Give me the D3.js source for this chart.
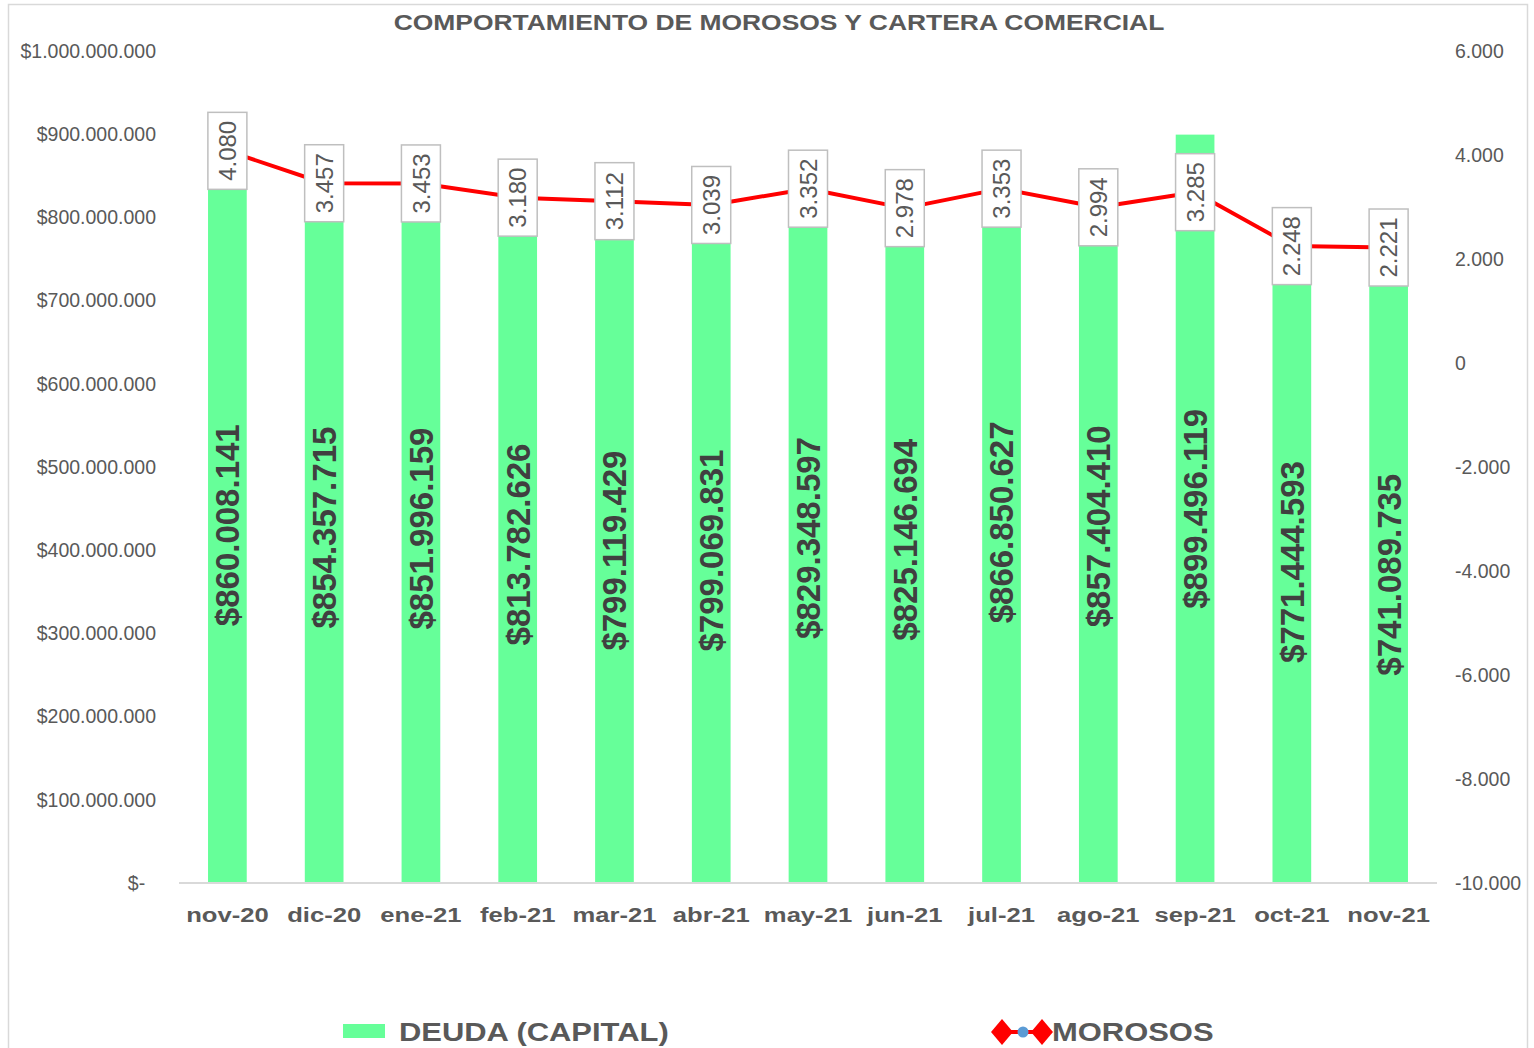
<!DOCTYPE html>
<html>
<head>
  <meta charset='utf-8'>
  <title>Comportamiento de morosos y cartera comercial</title>
  <script src='https://cdn.jsdelivr.net/npm/d3@7/dist/d3.min.js'></script>
  <style>
    body { margin: 0; background: #ffffff; }
    text { font-family: 'Liberation Sans', Arial, sans-serif; }
  </style>
</head>
<body>
  <svg id='chart'></svg>
  <script>
    const months = ['nov-20', 'dic-20', 'ene-21', 'feb-21', 'mar-21', 'abr-21', 'may-21',
        'jun-21', 'jul-21', 'ago-21', 'sep-21', 'oct-21', 'nov-21'];
    const deuda = [860008141, 854357715, 851996159, 813782626, 799119429, 799069831, 829348597,
        825146694, 866850627, 857404410, 899496119, 771444593, 741089735];
    const morosos = [4080, 3457, 3453, 3180, 3112, 3039, 3352, 2978, 3353, 2994, 3285, 2248, 2221];
    const leftTicks = d3.range(0, 1000000001, 100000000);
    const rightTicks = d3.range(-10000, 6001, 2000);

    const W = 1534, H = 1048;
    const margin = { top: 51, right: 97, bottom: 165, left: 179 };
    const width = W - margin.left - margin.right;
    const height = H - margin.top - margin.bottom;
    const stretch = 1.22;  // bold texts in the original are drawn wider

    const es = d3.formatLocale({ decimal: ',', thousands: '.', grouping: [3], currency: ['$', ''], minus: '-' });
    const fmtNum = es.format(',.0f');
    const fmtMoney = (v) => v === 0 ? '$-\u00a0\u00a0' : '$' + fmtNum(v);

    const svg = d3.select('#chart').attr('width', W).attr('height', H);

    svg.append('rect')
        .attr('x', 8.5).attr('y', 4.5)
        .attr('width', 1519).attr('height', 1100)
        .attr('fill', 'none').attr('stroke', '#d9d9d9').attr('stroke-width', 1.5);

    svg.append('text')
        .attr('transform', `translate(779, 30) scale(1.23, 1)`)
        .attr('text-anchor', 'middle')
        .attr('font-size', 21.5).attr('font-weight', 'bold').attr('fill', '#595959')
        .text('COMPORTAMIENTO DE MOROSOS Y CARTERA COMERCIAL');

    const g = svg.append('g').attr('transform', `translate(${margin.left}, ${margin.top})`);

    const x = d3.scaleBand().domain(months).range([0, width]).paddingInner(0.6).paddingOuter(0.3);
    const yL = d3.scaleLinear().domain([0, 1000000000]).range([height, 0]);
    const yR = d3.scaleLinear().domain([-10000, 6000]).range([height, 0]);
    const cx = (m) => x(m) + x.bandwidth() / 2;

    // left axis
    const axL = g.append('g')
        .call(d3.axisLeft(yL).tickValues(leftTicks).tickFormat(fmtMoney).tickSize(0).tickPadding(23));
    axL.select('.domain').remove();
    axL.selectAll('text').attr('font-size', 19.5).attr('fill', '#595959')
        .attr('font-family', "'Liberation Sans', Arial, sans-serif");

    // right axis
    const axR = g.append('g').attr('transform', `translate(${width}, 0)`)
        .call(d3.axisRight(yR).tickValues(rightTicks).tickFormat(fmtNum).tickSize(0).tickPadding(18));
    axR.select('.domain').remove();
    axR.selectAll('text').attr('font-size', 19.5).attr('fill', '#595959')
        .attr('font-family', "'Liberation Sans', Arial, sans-serif");

    // bars
    g.selectAll('.bar').data(months).join('rect')
        .attr('class', 'bar')
        .attr('x', (m) => x(m))
        .attr('width', x.bandwidth())
        .attr('y', (m, i) => yL(deuda[i]))
        .attr('height', (m, i) => height - yL(deuda[i]))
        .attr('fill', '#66ff99');

    // baseline
    g.append('line')
        .attr('x1', 0).attr('x2', width)
        .attr('y1', height).attr('y2', height)
        .attr('stroke', '#d9d9d9').attr('stroke-width', 2);

    // x labels
    g.selectAll('.xlab').data(months).join('text')
        .attr('class', 'xlab')
        .attr('transform', (m) => `translate(${cx(m)}, ${height + 39}) scale(${stretch}, 1)`)
        .attr('text-anchor', 'middle')
        .attr('font-size', 21).attr('font-weight', 'bold').attr('fill', '#595959')
        .text((m) => m);

    // bar value labels
    g.selectAll('.blab').data(months).join('text')
        .attr('class', 'blab')
        .attr('transform', (m, i) => {
            const yc = (yL(deuda[i]) + height) / 2;
            return `translate(${cx(m)}, ${yc}) rotate(-90)`;
        })
        .attr('text-anchor', 'middle')
        .attr('dy', '0.36em')
        .attr('font-size', 33).attr('font-weight', 'bold').attr('fill', '#404040')
        .text((m, i) => '$' + fmtNum(deuda[i]));

    // morosos line
    const line = d3.line()
        .x((d, i) => cx(months[i]))
        .y((d) => yR(d));
    g.append('path')
        .datum(morosos)
        .attr('fill', 'none')
        .attr('stroke', '#ff0000')
        .attr('stroke-width', 4)
        .attr('stroke-linejoin', 'round')
        .attr('d', line);

    // morosos labels in boxes
    const boxW = 39, boxH = 77;
    const lab = g.selectAll('.mlab').data(morosos).join('g')
        .attr('class', 'mlab')
        .attr('transform', (d, i) => `translate(${cx(months[i])}, ${yR(d)})`);
    lab.append('rect')
        .attr('x', -boxW / 2).attr('y', -boxH / 2)
        .attr('width', boxW).attr('height', boxH)
        .attr('fill', '#ffffff').attr('stroke', '#bfbfbf').attr('stroke-width', 1.5);
    lab.append('text')
        .attr('transform', 'rotate(-90)')
        .attr('text-anchor', 'middle')
        .attr('dy', '0.36em')
        .attr('font-size', 24).attr('fill', '#595959')
        .text((d) => fmtNum(d));

    // legend
    const leg = svg.append('g');
    leg.append('rect')
        .attr('x', 343).attr('y', 1024).attr('width', 42).attr('height', 14)
        .attr('fill', '#66ff99');
    leg.append('text')
        .attr('transform', `translate(399, 1041) scale(${stretch - 0.03}, 1)`)
        .attr('font-size', 26).attr('font-weight', 'bold').attr('fill', '#595959')
        .text('DEUDA (CAPITAL)');

    leg.append('line')
        .attr('x1', 1000).attr('x2', 1044).attr('y1', 1032).attr('y2', 1032)
        .attr('stroke', '#ff0000').attr('stroke-width', 4);
    leg.selectAll('.dia').data([1002, 1042]).join('path')
        .attr('class', 'dia')
        .attr('d', (d) => `M${d - 11},1032 L${d},1019 L${d + 11},1032 L${d},1045 Z`)
        .attr('fill', '#ff0000');
    leg.append('circle')
        .attr('cx', 1023).attr('cy', 1032).attr('r', 5.5)
        .attr('fill', '#5b9bd5');
    leg.append('text')
        .attr('transform', `translate(1052, 1041) scale(${stretch - 0.03}, 1)`)
        .attr('font-size', 26).attr('font-weight', 'bold').attr('fill', '#595959')
        .text('MOROSOS');
  </script>
</body>
</html>
